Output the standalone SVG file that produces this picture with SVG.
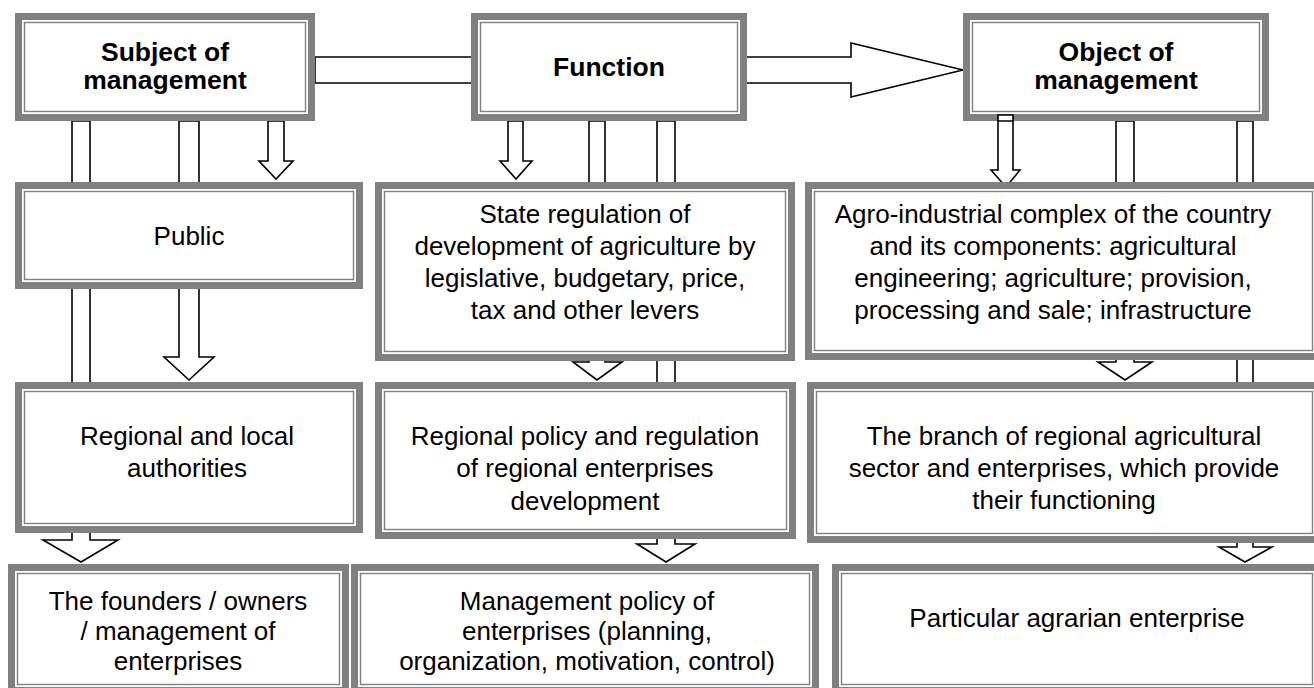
<svg xmlns="http://www.w3.org/2000/svg" width="1314" height="688" viewBox="0 0 1314 688">
<style>
.o{fill:#808080}
.i{fill:#fff}
.l{fill:#fff;stroke:#808080;stroke-width:1.4}
.c{fill:#fff;stroke:#000;stroke-width:1.6;stroke-linejoin:miter}
text{font-family:"Liberation Sans",Arial,sans-serif;font-size:26px;fill:#000;text-anchor:middle}
.b{font-weight:bold;font-size:26.5px}
</style>
<g id="connectors">
<polygon class="c" points="315,57 851,57 851,43 963,70 851,97 851,83 315,83"/>
<polygon class="c" points="72,121 90,121 90,540 118,540 81,562 43,540 72,540"/>
<polygon class="c" points="179,121 199,121 199,357 214,357 189,380 164,357 179,357"/>
<polygon class="c" points="268,121 284,121 284,161 293,161 276,179 259,161 268,161"/>
<polygon class="c" points="508,121 523,121 523,161 532,161 516,179 500,161 508,161"/>
<polygon class="c" points="589,121 605,121 605,362 622,362 597,380 573,362 589,362"/>
<polygon class="c" points="657,121 675,121 675,544 695,544 666,562 637,544 657,544"/>
<polygon class="c" points="998,115 1013,115 1013,170 1020,170 1006,187 991,170 998,170"/>
<polygon class="c" points="1116,121 1134,121 1134,362 1152,362 1125,380 1098,362 1116,362"/>
<polygon class="c" points="1237,121 1253,121 1253,547 1272,547 1245,562 1219,547 1237,547"/>
</g>
<g id="subject">
<rect class="o" x="15" y="13" width="300" height="108"/><rect class="i" x="22" y="20" width="286" height="94"/><rect class="l" x="24.5" y="22.5" width="281" height="89"/>
<text class="b" x="165" y="61">Subject of</text><text class="b" x="165" y="89">management</text>
</g>
<g id="function">
<rect class="o" x="471" y="13" width="276" height="108"/><rect class="i" x="478" y="20" width="262" height="94"/><rect class="l" x="480.5" y="22.5" width="257" height="89"/>
<text class="b" x="609" y="76">Function</text>
</g>
<g id="object">
<rect class="o" x="963" y="13" width="306" height="108"/><rect class="i" x="970" y="20" width="292" height="94"/><rect class="l" x="972.5" y="22.5" width="287" height="89"/>
<text class="b" x="1116" y="61">Object of</text><text class="b" x="1116" y="89">management</text>
</g>
<polygon class="c" points="998,115 1013,115 1013,121 998,121"/>
<g id="public">
<rect class="o" x="15" y="182" width="348" height="107"/><rect class="i" x="22" y="189" width="334" height="93"/><rect class="l" x="24.5" y="191.5" width="329" height="88"/>
<text x="189" y="245">Public</text>
</g>
<g id="state">
<rect class="o" x="375" y="182" width="420" height="179"/><rect class="i" x="382" y="189" width="406" height="165"/><rect class="l" x="384.5" y="191.5" width="401" height="160"/>
<text x="585" y="223">State regulation of</text>
<text x="585" y="255">development of agriculture by</text>
<text x="585" y="287">legislative, budgetary, price,</text>
<text x="585" y="319">tax and other levers</text>
</g>
<g id="agro">
<rect class="o" x="805" y="182" width="517" height="178"/><rect class="i" x="812" y="189" width="503" height="164"/><rect class="l" x="814.5" y="191.5" width="498" height="159"/>
<text x="1053" y="223">Agro-industrial complex of the country</text>
<text x="1053" y="255">and its components: agricultural</text>
<text x="1053" y="287">engineering; agriculture; provision,</text>
<text x="1053" y="319">processing and sale; infrastructure</text>
</g>
<g id="regional-local">
<rect class="o" x="15" y="382" width="348" height="151"/><rect class="i" x="22" y="389" width="334" height="137"/><rect class="l" x="24.5" y="391.5" width="329" height="132"/>
<text x="187" y="445">Regional and local</text>
<text x="187" y="477">authorities</text>
</g>
<g id="regional-policy">
<rect class="o" x="375" y="382" width="421" height="157"/><rect class="i" x="382" y="389" width="407" height="143"/><rect class="l" x="384.5" y="391.5" width="402" height="138"/>
<text x="585" y="445">Regional policy and regulation</text>
<text x="585" y="477">of regional enterprises</text>
<text x="585" y="510">development</text>
</g>
<g id="branch">
<rect class="o" x="807" y="382" width="515" height="161"/><rect class="i" x="814" y="389" width="501" height="147"/><rect class="l" x="816.5" y="391.5" width="496" height="142"/>
<text x="1064" y="445">The branch of regional agricultural</text>
<text x="1064" y="477">sector and enterprises, which provide</text>
<text x="1064" y="509">their functioning</text>
</g>
<g id="founders">
<rect class="o" x="8" y="564" width="341" height="130"/><rect class="i" x="15" y="571" width="327" height="116"/><rect class="l" x="17.5" y="573.5" width="322" height="111"/>
<text x="178" y="610">The founders / owners</text>
<text x="178" y="640">/ management of</text>
<text x="178" y="670">enterprises</text>
</g>
<g id="management">
<rect class="o" x="351" y="564" width="468" height="130"/><rect class="i" x="358" y="571" width="454" height="116"/><rect class="l" x="360.5" y="573.5" width="449" height="111"/>
<text x="587" y="610">Management policy of</text>
<text x="587" y="640">enterprises (planning,</text>
<text x="587" y="670">organization, motivation, control)</text>
</g>
<g id="particular">
<rect class="o" x="832" y="564" width="490" height="130"/><rect class="i" x="839" y="571" width="476" height="116"/><rect class="l" x="841.5" y="573.5" width="471" height="111"/>
<text x="1077" y="627">Particular agrarian enterprise</text>
</g>
</svg>
